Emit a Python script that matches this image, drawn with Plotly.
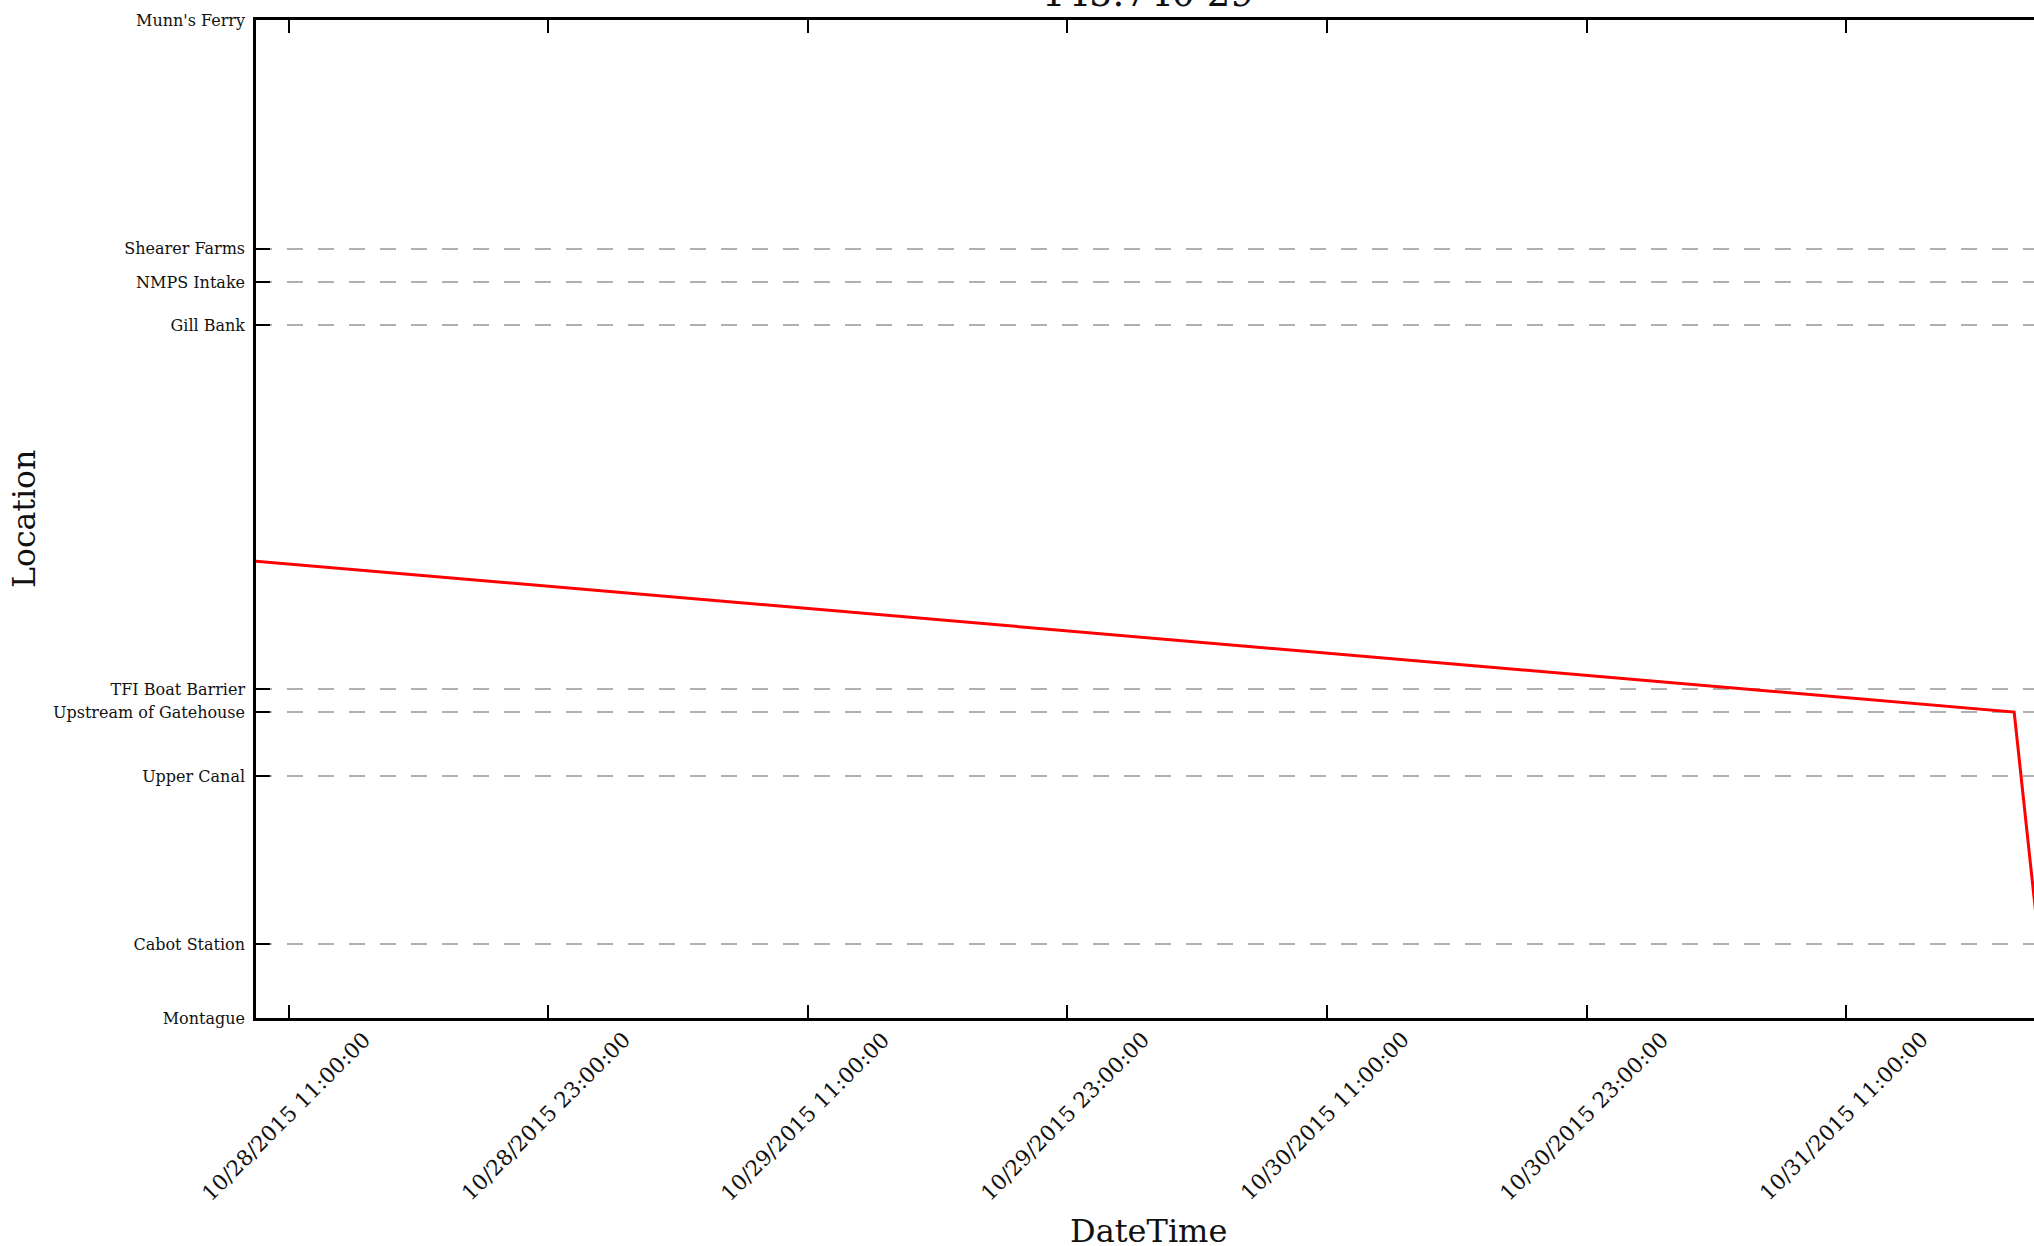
import plotly.graph_objects as go

# ---- data ----
locations = ["Montague", "Cabot Station", "Upper Canal", "Upstream of Gatehouse",
             "TFI Boat Barrier", "Gill Bank", "NMPS Intake", "Shearer Farms", "Munn's Ferry"]
location_pos = [0.0, 1.48, 4.85, 6.13, 6.59, 13.88, 14.74, 15.42, 20.0]

track_times = ["2015-10-23 02:30", "2015-10-31 18:46", "2015-10-31 19:55"]
track_locations = ["Gill Bank", "Upstream of Gatehouse", "Cabot Station"]

tick_times = ["2015-10-28 11:00", "2015-10-28 23:00", "2015-10-29 11:00", "2015-10-29 23:00",
              "2015-10-30 11:00", "2015-10-30 23:00", "2015-10-31 11:00"]
tick_labels = ["10/28/2015 11:00:00", "10/28/2015 23:00:00", "10/29/2015 11:00:00",
               "10/29/2015 23:00:00", "10/30/2015 11:00:00", "10/30/2015 23:00:00",
               "10/31/2015 11:00:00"]
x_range = ["2015-10-28 09:29", "2015-10-31 19:41"]
title_text = "145.740 29"

pos_lookup = dict(zip(locations, location_pos))
track_y = [pos_lookup[l] for l in track_locations]

FONT = "DejaVu Serif"

fig = go.Figure()
fig.add_trace(go.Scatter(x=track_times, y=track_y, mode="lines",
                         line=dict(color="#ff0000", width=3),
                         showlegend=False, hoverinfo="skip"))

annotations = []
for t, lab in zip(tick_times, tick_labels):
    annotations.append(dict(x=t, xref="x", y=0, yref="paper", text=lab, showarrow=False,
                            textangle=-45, xanchor="center", yanchor="middle",
                            yshift=-98, xshift=-3,
                            font=dict(family=FONT, size=21.5, color="#111111")))
annotations.append(dict(x=0.5, xref="paper", y=0, yref="paper", text="DateTime",
                        showarrow=False, xanchor="center", yanchor="middle",
                        yshift=-213, xshift=3,
                        font=dict(family=FONT, size=32, color="#111111")))
annotations.append(dict(x=0, xref="paper", y=0.5, yref="paper", text="Location",
                        showarrow=False, xanchor="center", yanchor="middle",
                        textangle=-90, xshift=-232,
                        font=dict(family=FONT, size=31.5, color="#111111")))
annotations.append(dict(x=0.5, xref="paper", y=1, yref="paper", text=title_text,
                        showarrow=False, xanchor="center", yanchor="bottom",
                        yshift=3, xshift=3,
                        font=dict(family=FONT, size=37, color="#111111")))

fig.update_layout(
    width=2034, height=1246,
    margin=dict(l=256, r=0, t=20, b=228, pad=0),
    paper_bgcolor="white", plot_bgcolor="white",
    font=dict(family=FONT, color="#111111"),
    annotations=annotations,
    xaxis=dict(type="date", range=x_range, tickmode="array", tickvals=tick_times,
               showticklabels=False, ticks="inside", ticklen=13, tickwidth=1.5,
               tickcolor="#000000", showline=True, linecolor="#000000", linewidth=2.5,
               mirror="ticks", showgrid=False, zeroline=False),
    yaxis=dict(range=[0, 20], tickmode="array", tickvals=location_pos, ticktext=locations,
               ticks="inside", ticklen=14, tickwidth=1.5, tickcolor="#000000",
               showline=True, linecolor="#000000", linewidth=2.5, mirror=False,
               showgrid=True, gridcolor="#b0b0b0", gridwidth=1.5, griddash="16px,15px",
               zeroline=False, ticklabelstandoff=5,
               tickfont=dict(family=FONT, size=16, color="#111111")),
)

fig.write_html("out.html")
